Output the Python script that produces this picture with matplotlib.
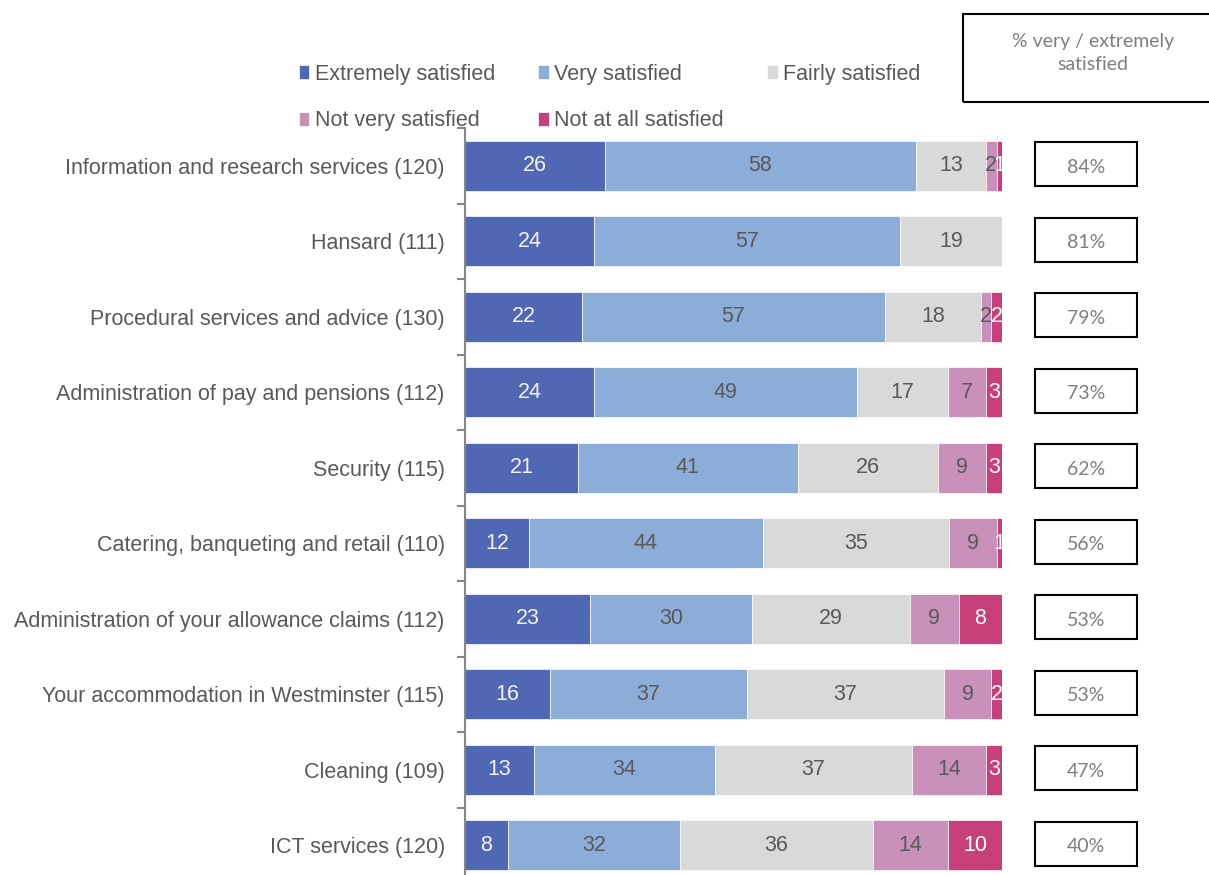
import numpy as np
import matplotlib.pyplot as plt
from matplotlib.patches import Rectangle

plt.rcParams['font.family'] = ['Liberation Sans', 'DejaVu Sans']

categories = ["Information and research services (120)", "Hansard (111)",
              "Procedural services and advice (130)", "Administration of pay and pensions (112)",
              "Security (115)", "Catering, banqueting and retail (110)",
              "Administration of your allowance claims (112)", "Your accommodation in Westminster (115)",
              "Cleaning (109)", "ICT services (120)"]
series = ["Extremely satisfied", "Very satisfied", "Fairly satisfied",
          "Not very satisfied", "Not at all satisfied"]
extremely = [26, 24, 22, 24, 21, 12, 23, 16, 13, 8]
very = [58, 57, 57, 49, 41, 44, 30, 37, 34, 32]
fairly = [13, 19, 18, 17, 26, 35, 29, 37, 37, 36]
not_very = [2, 0, 2, 7, 9, 9, 9, 9, 14, 14]
not_at_all = [1, 0, 2, 3, 3, 1, 8, 2, 3, 10]
pct_sat = [84, 81, 79, 73, 62, 56, 53, 53, 47, 40]

colors = ['#5067B4', '#8DADD9', '#D9D9D9', '#C990BA', '#C8407A']
txt_colors = ['#F2F2F2', '#595959', '#595959', '#595959', 'white']
grey = '#595959'

data = np.array([extremely, very, fairly, not_very, not_at_all], dtype=float)
norm = data / data.sum(axis=0) * 100

fig = plt.figure(figsize=(12.09, 8.75), dpi=100)
ax = fig.add_axes([465 / 1209, 1 - 883 / 875, (1002 - 465) / 1209, (883 - 128) / 875])

y = np.arange(len(categories))
left = np.zeros(len(categories))
handles = []
for k in range(len(series)):
    bars = ax.barh(y, norm[k], left=left, height=0.66, color=colors[k],
                   edgecolor='white', linewidth=0.5, label=series[k])
    labels = [str(int(v)) if v > 0 else '' for v in data[k]]
    ax.bar_label(bars, labels=labels, label_type='center', color=txt_colors[k], fontsize=15.5)
    left += norm[k]
    handles.append(bars)

ax.set_xlim(0, 100)
ax.set_ylim(len(categories) - 0.5, -0.5)
ax.set_yticks(y)
ax.set_yticklabels(categories, fontsize=15.5, color=grey)
ax.tick_params(axis='y', which='major', length=0, pad=14.5)
ax.set_yticks(np.arange(-0.5, len(categories)), minor=True)
ax.tick_params(axis='y', which='minor', length=6, width=1.5, color='#868686')
ax.set_xticks([])
for s in ['top', 'right', 'bottom']:
    ax.spines[s].set_visible(False)
ax.spines['left'].set_color('#868686')
ax.spines['left'].set_linewidth(1.5)

# % very / extremely boxes
for i, p in enumerate(pct_sat):
    ax.add_patch(Rectangle((106.1, i - 0.29 - 0.02), 19.0, 0.58, fill=False,
                           edgecolor='black', linewidth=1.5, clip_on=False))
    ax.text(115.6, i + 0.02, f"{p}%", ha='center', va='center', fontsize=14,
            color='#7F7F7F', family=['Lato', 'DejaVu Sans'])

fig.patches.append(Rectangle((963 / 1209, 1 - 102 / 875), 0.3, 88 / 875, fill=False,
                             edgecolor='black', linewidth=1.5, transform=fig.transFigure))
fig.text(1093 / 1209, 1 - 53 / 875, "% very / extremely\nsatisfied", ha='center', va='center',
         fontsize=14, color='#7F7F7F', family=['Lato', 'DejaVu Sans'], linespacing=1.5)

order = [0, 3, 1, 4, 2]
fig.legend([handles[i] for i in order], [series[i] for i in order], ncol=3,
           loc='upper left', bbox_to_anchor=(290 / 1209, 1 - 55 / 875), frameon=False,
           fontsize=15.5, labelcolor=grey, handlelength=0.5, handleheight=0.65,
           handletextpad=0.25, columnspacing=2.0, labelspacing=1.2, borderaxespad=0)

fig.savefig('out.png', dpi=100)
